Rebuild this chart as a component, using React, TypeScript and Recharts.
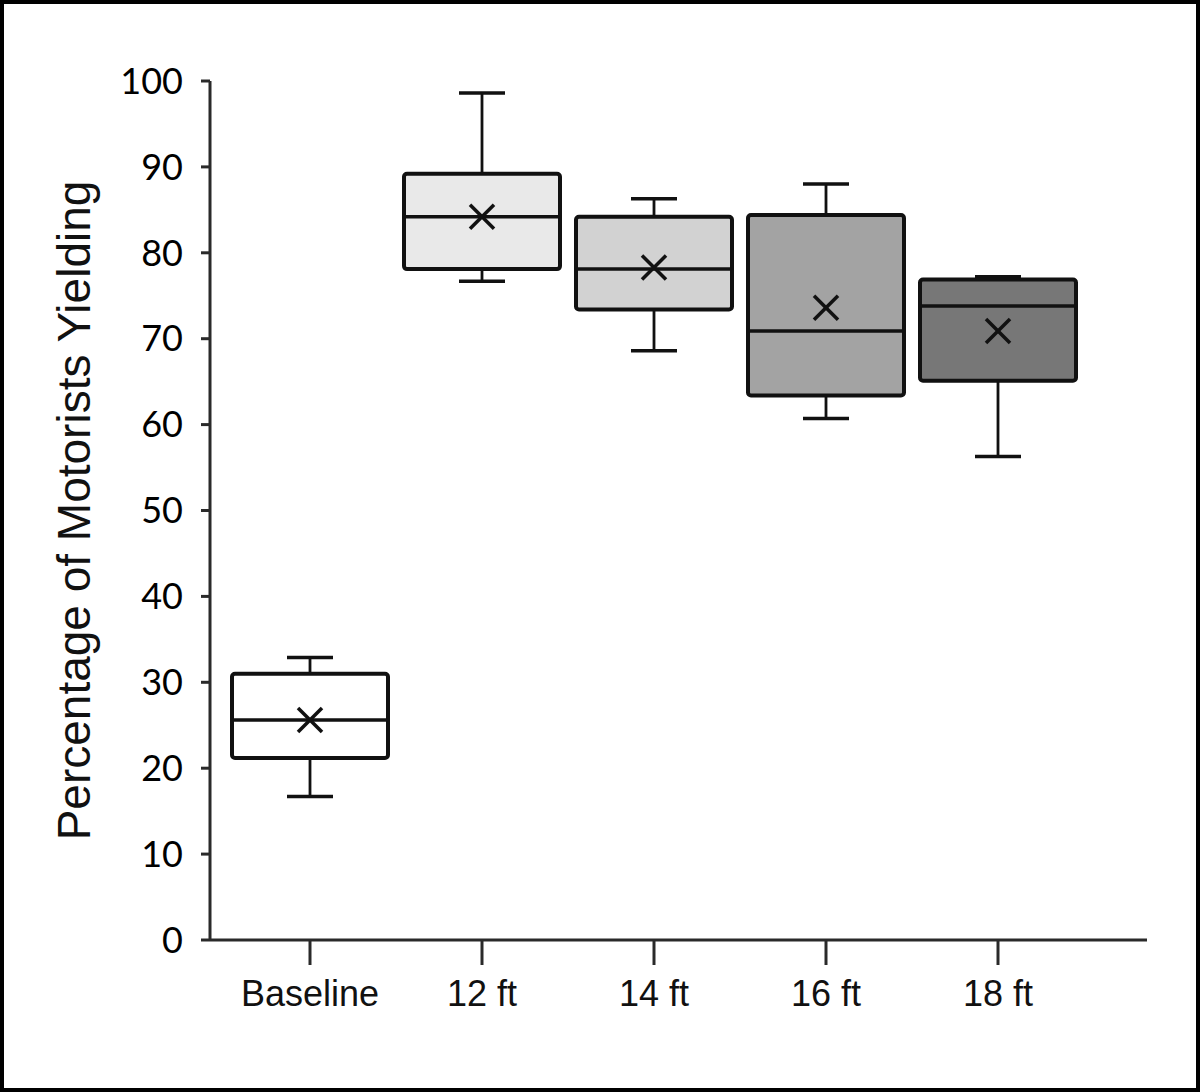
import { ComposedChart, Bar, XAxis, YAxis } from 'recharts'

// one value per group
const categories = ['Baseline', '12 ft', '14 ft', '16 ft', '18 ft']
const whiskerLow = [16.7, 76.7, 68.6, 60.7, 56.3]
const quartile1 = [21.2, 78.1, 73.4, 63.4, 65.1]
const medians = [25.6, 84.2, 78.1, 70.9, 73.8]
const quartile3 = [31.0, 89.2, 84.2, 84.4, 76.9]
const whiskerHigh = [32.9, 98.6, 86.3, 88.0, 77.2]
const means = [25.6, 84.2, 78.3, 73.6, 70.9]
const yTicks = [0, 10, 20, 30, 40, 50, 60, 70, 80, 90, 100]

const boxFills = ['#ffffff', '#e9e9e9', '#d2d2d2', '#a3a3a3', '#777777']

const data = categories.map((name, i) => ({
  name,
  range: [whiskerLow[i], whiskerHigh[i]],
  low: whiskerLow[i],
  q1: quartile1[i],
  median: medians[i],
  q3: quartile3[i],
  high: whiskerHigh[i],
  mean: means[i],
}))

const INK = '#111'

// the bar spans low..high, so its own y/height give the scale for the rest of the box
function BoxShape(props: any) {
  const { x, y, width, height, payload, index } = props
  const top = Math.min(y, y + height)
  const h = Math.abs(height)
  const k = h / (payload.high - payload.low)
  const py = (v: number) => top + (payload.high - v) * k
  const cx = x + width / 2
  const cap = 23
  const m = 12
  const yq1 = py(payload.q1)
  const yq3 = py(payload.q3)
  const ymed = py(payload.median)
  const ymean = py(payload.mean)
  return (
    <g>
      <line x1={cx} x2={cx} y1={py(payload.high)} y2={yq3} stroke={INK} strokeWidth={2.8} />
      <line x1={cx} x2={cx} y1={yq1} y2={py(payload.low)} stroke={INK} strokeWidth={2.8} />
      <line x1={cx - cap} x2={cx + cap} y1={py(payload.high)} y2={py(payload.high)} stroke={INK} strokeWidth={3.5} />
      <line x1={cx - cap} x2={cx + cap} y1={py(payload.low)} y2={py(payload.low)} stroke={INK} strokeWidth={3.5} />
      <rect x={x} y={yq3} width={width} height={yq1 - yq3} rx={3} fill={boxFills[index]} stroke={INK} strokeWidth={4} />
      <line x1={x} x2={x + width} y1={ymed} y2={ymed} stroke={INK} strokeWidth={3.5} />
      <line x1={cx - m} x2={cx + m} y1={ymean - m} y2={ymean + m} stroke={INK} strokeWidth={3.5} />
      <line x1={cx - m} x2={cx + m} y1={ymean + m} y2={ymean - m} stroke={INK} strokeWidth={3.5} />
    </g>
  )
}

export default function App() {
  return (
    <div
      style={{
        position: 'absolute',
        left: 0,
        top: 0,
        width: 1200,
        height: 1092,
        border: '4px solid #000',
        boxSizing: 'border-box',
        background: '#fff',
      }}
    >
      <ComposedChart width={1192} height={1084} data={data} margin={{ top: 77, right: 49, bottom: 48, left: 20 }}>
        <XAxis
          dataKey="name"
          height={100}
          padding={{ left: 14, right: 63 }}
          stroke="#2a2a2a"
          strokeWidth={3}
          tickSize={25}
          tickMargin={15}
          tick={{ fontSize: 36, fill: '#111', fontFamily: '"Liberation Sans", Arial, sans-serif' }}
        />
        <YAxis
          type="number"
          domain={[0, 100]}
          ticks={yTicks}
          interval={0}
          width={186}
          stroke="#2a2a2a"
          strokeWidth={3}
          tickSize={9}
          tickMargin={18}
          tick={{ fontSize: 36, fill: '#000', fontFamily: 'Lato, "Open Sans", sans-serif' }}
          label={{
            value: 'Percentage of Motorists Yielding',
            angle: -90,
            position: 'insideLeft',
            offset: 50,
            style: { textAnchor: 'middle', fontSize: 46, fill: '#111', fontFamily: '"Liberation Sans", Arial, sans-serif' },
          }}
        />
        <Bar dataKey="range" barSize={156} shape={BoxShape} isAnimationActive={false} />
      </ComposedChart>
    </div>
  )
}
